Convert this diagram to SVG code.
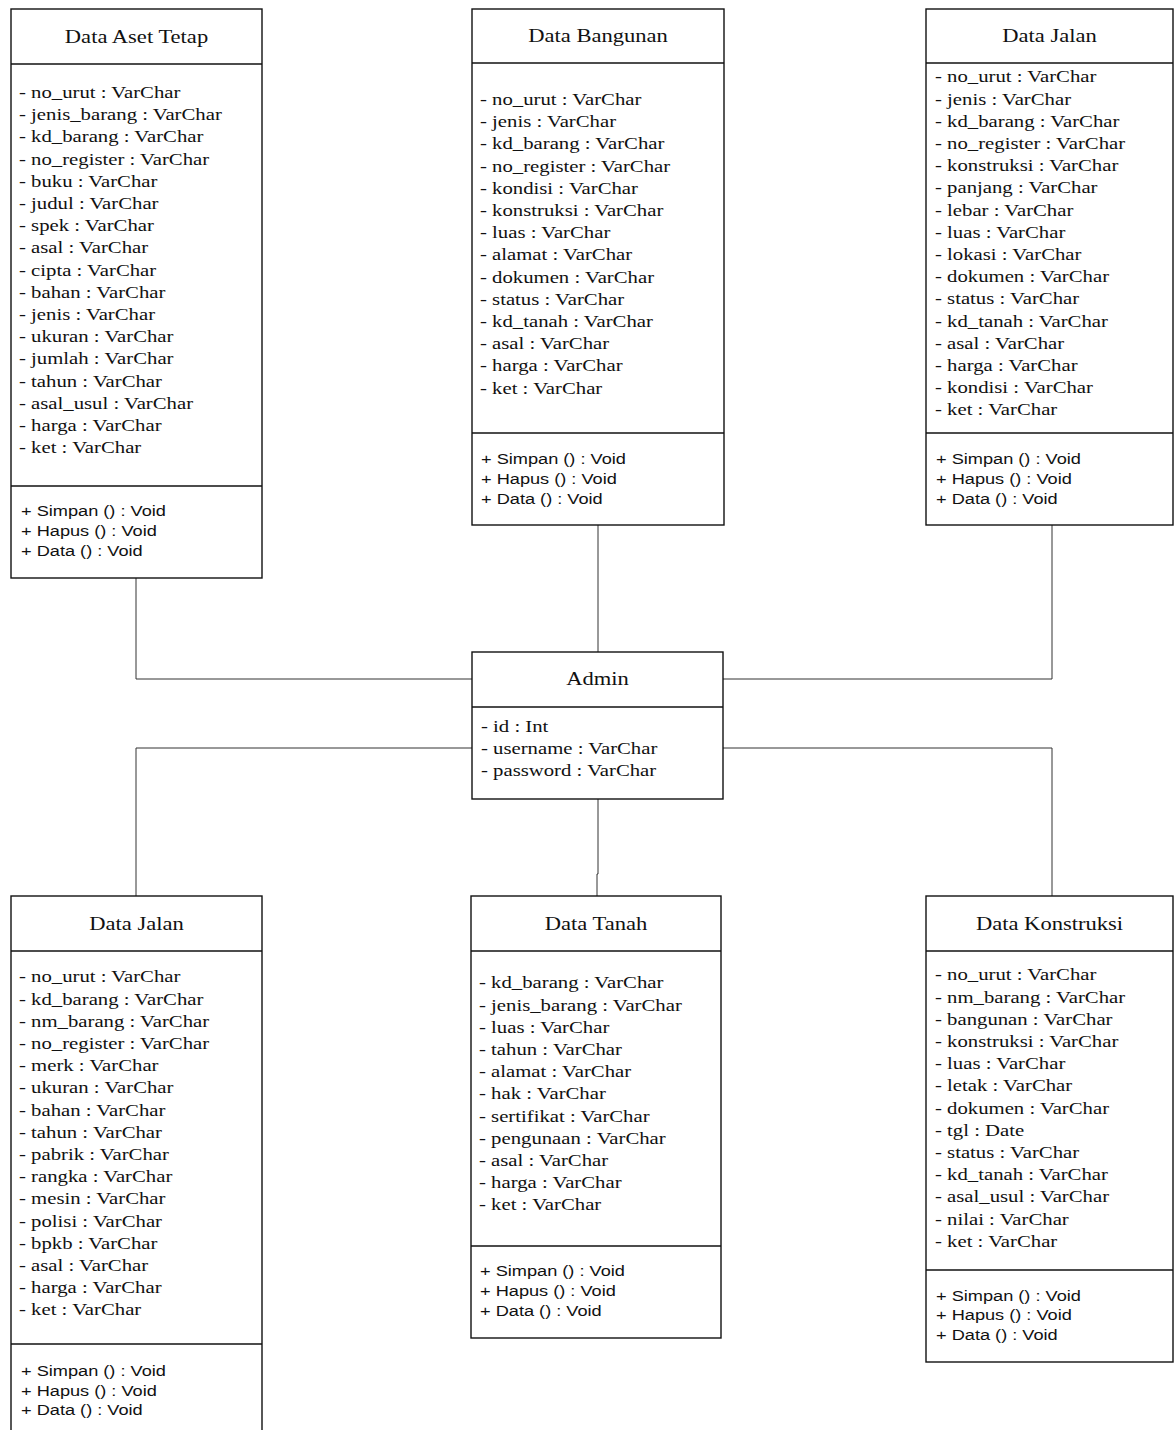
<svg xmlns="http://www.w3.org/2000/svg" width="1174" height="1430" viewBox="0 0 1174 1430">
<style>
.box{fill:#fff;stroke:#111;stroke-width:1.4}
.div{stroke:#111;stroke-width:1.4}
.conn{fill:none;stroke:#333;stroke-width:1}
.title{font-family:"Liberation Serif","Times New Roman",serif;font-size:18.5px;fill:#111;text-anchor:middle}
.attr{font-family:"Liberation Serif","Times New Roman",serif;font-size:17px;fill:#111}
.meth{font-family:"Liberation Sans",Arial,sans-serif;font-size:14.9px;fill:#111}
</style>
<rect width="1174" height="1430" fill="#fff"/>
<g id="connectors">
<path class="conn" d="M136 578 V679 H472"/>
<path class="conn" d="M598 525 V652"/>
<path class="conn" d="M1052 525 V679 H723"/>
<path class="conn" d="M472 748 H136 V896"/>
<path class="conn" d="M723 748 H1052 V896"/>
<path class="conn" d="M598 799 V874 H597 V896"/>
</g>
<g id="data-aset-tetap">
<rect class="box" x="11" y="9" width="251" height="569"/>
<line class="div" x1="11" y1="64" x2="262" y2="64"/>
<line class="div" x1="11" y1="486" x2="262" y2="486"/>
<text class="title" transform="translate(136.5 43) scale(1.22 1)">Data Aset Tetap</text>
<g class="attr" transform="translate(19 0) scale(1.22 1)">
<text y="98">- no_urut : VarChar</text>
<text y="120.2">- jenis_barang : VarChar</text>
<text y="142.4">- kd_barang : VarChar</text>
<text y="164.6">- no_register : VarChar</text>
<text y="186.8">- buku : VarChar</text>
<text y="209">- judul : VarChar</text>
<text y="231.2">- spek : VarChar</text>
<text y="253.4">- asal : VarChar</text>
<text y="275.6">- cipta : VarChar</text>
<text y="297.8">- bahan : VarChar</text>
<text y="320">- jenis : VarChar</text>
<text y="342.2">- ukuran : VarChar</text>
<text y="364.4">- jumlah : VarChar</text>
<text y="386.6">- tahun : VarChar</text>
<text y="408.8">- asal_usul : VarChar</text>
<text y="431">- harga : VarChar</text>
<text y="453.2">- ket : VarChar</text>
</g>
<g class="meth" transform="translate(21 0) scale(1.22 1)">
<text y="516.5">+ Simpan () : Void</text>
<text y="536.5">+ Hapus () : Void</text>
<text y="556.5">+ Data () : Void</text>
</g>
</g>
<g id="data-bangunan">
<rect class="box" x="472" y="9" width="252" height="516"/>
<line class="div" x1="472" y1="63" x2="724" y2="63"/>
<line class="div" x1="472" y1="433" x2="724" y2="433"/>
<text class="title" transform="translate(598 42) scale(1.22 1)">Data Bangunan</text>
<g class="attr" transform="translate(480 0) scale(1.22 1)">
<text y="105">- no_urut : VarChar</text>
<text y="127.2">- jenis : VarChar</text>
<text y="149.4">- kd_barang : VarChar</text>
<text y="171.6">- no_register : VarChar</text>
<text y="193.8">- kondisi : VarChar</text>
<text y="216">- konstruksi : VarChar</text>
<text y="238.2">- luas : VarChar</text>
<text y="260.4">- alamat : VarChar</text>
<text y="282.6">- dokumen : VarChar</text>
<text y="304.8">- status : VarChar</text>
<text y="327">- kd_tanah : VarChar</text>
<text y="349.2">- asal : VarChar</text>
<text y="371.4">- harga : VarChar</text>
<text y="393.6">- ket : VarChar</text>
</g>
<g class="meth" transform="translate(481 0) scale(1.22 1)">
<text y="464.5">+ Simpan () : Void</text>
<text y="484.5">+ Hapus () : Void</text>
<text y="504">+ Data () : Void</text>
</g>
</g>
<g id="data-jalan-atas">
<rect class="box" x="926" y="9" width="247" height="516"/>
<line class="div" x1="926" y1="63" x2="1173" y2="63"/>
<line class="div" x1="926" y1="433" x2="1173" y2="433"/>
<text class="title" transform="translate(1049.5 42) scale(1.22 1)">Data Jalan</text>
<g class="attr" transform="translate(935 0) scale(1.22 1)">
<text y="82.5">- no_urut : VarChar</text>
<text y="104.7">- jenis : VarChar</text>
<text y="126.9">- kd_barang : VarChar</text>
<text y="149.1">- no_register : VarChar</text>
<text y="171.3">- konstruksi : VarChar</text>
<text y="193.5">- panjang : VarChar</text>
<text y="215.7">- lebar : VarChar</text>
<text y="237.9">- luas : VarChar</text>
<text y="260.1">- lokasi : VarChar</text>
<text y="282.3">- dokumen : VarChar</text>
<text y="304.5">- status : VarChar</text>
<text y="326.7">- kd_tanah : VarChar</text>
<text y="348.9">- asal : VarChar</text>
<text y="371.1">- harga : VarChar</text>
<text y="393.3">- kondisi : VarChar</text>
<text y="415.5">- ket : VarChar</text>
</g>
<g class="meth" transform="translate(936 0) scale(1.22 1)">
<text y="464.5">+ Simpan () : Void</text>
<text y="484.5">+ Hapus () : Void</text>
<text y="504">+ Data () : Void</text>
</g>
</g>
<g id="admin">
<rect class="box" x="472" y="652" width="251" height="147"/>
<line class="div" x1="472" y1="707" x2="723" y2="707"/>
<text class="title" transform="translate(597.5 685) scale(1.22 1)">Admin</text>
<g class="attr" transform="translate(481 0) scale(1.22 1)">
<text y="732">- id : Int</text>
<text y="754">- username : VarChar</text>
<text y="776">- password : VarChar</text>
</g>
</g>
<g id="data-jalan-bawah">
<rect class="box" x="11" y="896" width="251" height="550"/>
<line class="div" x1="11" y1="951" x2="262" y2="951"/>
<line class="div" x1="11" y1="1344" x2="262" y2="1344"/>
<text class="title" transform="translate(136.5 929.5) scale(1.22 1)">Data Jalan</text>
<g class="attr" transform="translate(19 0) scale(1.22 1)">
<text y="982.5">- no_urut : VarChar</text>
<text y="1004.7">- kd_barang : VarChar</text>
<text y="1026.9">- nm_barang : VarChar</text>
<text y="1049.1">- no_register : VarChar</text>
<text y="1071.3">- merk : VarChar</text>
<text y="1093.5">- ukuran : VarChar</text>
<text y="1115.7">- bahan : VarChar</text>
<text y="1137.9">- tahun : VarChar</text>
<text y="1160.1">- pabrik : VarChar</text>
<text y="1182.3">- rangka : VarChar</text>
<text y="1204.5">- mesin : VarChar</text>
<text y="1226.7">- polisi : VarChar</text>
<text y="1248.9">- bpkb : VarChar</text>
<text y="1271.1">- asal : VarChar</text>
<text y="1293.3">- harga : VarChar</text>
<text y="1315.5">- ket : VarChar</text>
</g>
<g class="meth" transform="translate(21 0) scale(1.22 1)">
<text y="1376.5">+ Simpan () : Void</text>
<text y="1396">+ Hapus () : Void</text>
<text y="1415.5">+ Data () : Void</text>
</g>
</g>
<g id="data-tanah">
<rect class="box" x="471" y="896" width="250" height="442"/>
<line class="div" x1="471" y1="951" x2="721" y2="951"/>
<line class="div" x1="471" y1="1246" x2="721" y2="1246"/>
<text class="title" transform="translate(596 929.5) scale(1.22 1)">Data Tanah</text>
<g class="attr" transform="translate(479 0) scale(1.22 1)">
<text y="988.5">- kd_barang : VarChar</text>
<text y="1010.7">- jenis_barang : VarChar</text>
<text y="1032.9">- luas : VarChar</text>
<text y="1055.1">- tahun : VarChar</text>
<text y="1077.3">- alamat : VarChar</text>
<text y="1099.5">- hak : VarChar</text>
<text y="1121.7">- sertifikat : VarChar</text>
<text y="1143.9">- pengunaan : VarChar</text>
<text y="1166.1">- asal : VarChar</text>
<text y="1188.3">- harga : VarChar</text>
<text y="1210.5">- ket : VarChar</text>
</g>
<g class="meth" transform="translate(480 0) scale(1.22 1)">
<text y="1276">+ Simpan () : Void</text>
<text y="1296">+ Hapus () : Void</text>
<text y="1316">+ Data () : Void</text>
</g>
</g>
<g id="data-konstruksi">
<rect class="box" x="926" y="896" width="247" height="466"/>
<line class="div" x1="926" y1="951" x2="1173" y2="951"/>
<line class="div" x1="926" y1="1270" x2="1173" y2="1270"/>
<text class="title" transform="translate(1049.5 929.5) scale(1.22 1)">Data Konstruksi</text>
<g class="attr" transform="translate(935 0) scale(1.22 1)">
<text y="980.5">- no_urut : VarChar</text>
<text y="1002.7">- nm_barang : VarChar</text>
<text y="1024.9">- bangunan : VarChar</text>
<text y="1047.1">- konstruksi : VarChar</text>
<text y="1069.3">- luas : VarChar</text>
<text y="1091.5">- letak : VarChar</text>
<text y="1113.7">- dokumen : VarChar</text>
<text y="1135.9">- tgl : Date</text>
<text y="1158.1">- status : VarChar</text>
<text y="1180.3">- kd_tanah : VarChar</text>
<text y="1202.5">- asal_usul : VarChar</text>
<text y="1224.7">- nilai : VarChar</text>
<text y="1246.9">- ket : VarChar</text>
</g>
<g class="meth" transform="translate(936 0) scale(1.22 1)">
<text y="1301">+ Simpan () : Void</text>
<text y="1320.5">+ Hapus () : Void</text>
<text y="1340">+ Data () : Void</text>
</g>
</g>
</svg>
